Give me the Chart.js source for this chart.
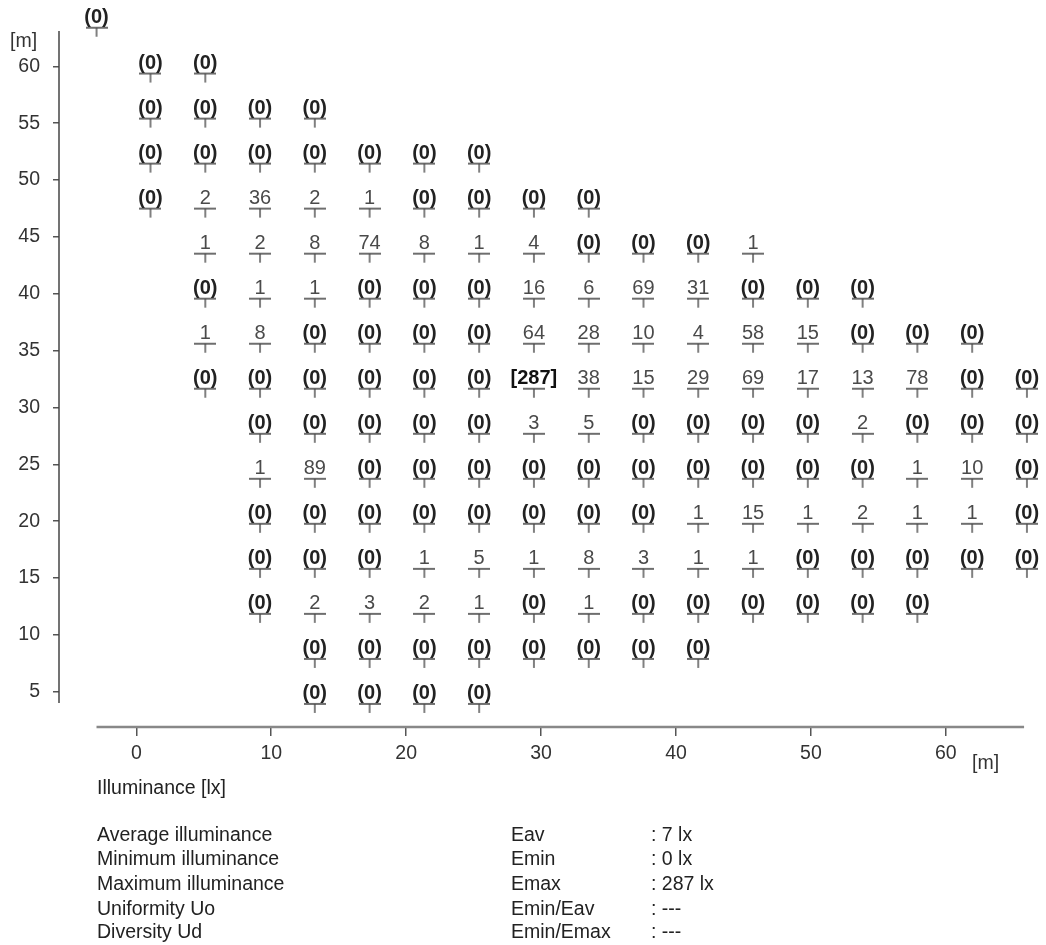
<!DOCTYPE html>
<html><head><meta charset="utf-8">
<script src="https://cdn.jsdelivr.net/npm/chart.js@4.4.1/dist/chart.umd.min.js"></script>
<style>
html,body{margin:0;padding:0;background:#fff;}
#wrap{position:relative;width:1046px;height:945px;overflow:hidden;}
canvas{position:absolute;left:0;top:0;}
.t{position:absolute;font-family:"Liberation Sans",Arial,sans-serif;font-size:19.5px;color:#222;white-space:nowrap;line-height:22px;}
</style></head><body>
<div id="wrap"><canvas id="c" width="1046" height="945"></canvas><div id="stats"></div></div>
<script>
// ---- tick labels ----
const xTicks = [0, 10, 20, 30, 40, 50, 60];
const yTicks = [5, 10, 15, 20, 25, 30, 35, 40, 45, 50, 55, 60];

// ---- calculation grid positions [m] ----
const colX = [1.05, 5.11, 9.17, 13.23, 17.29, 21.35, 25.41, 29.47, 33.53, 37.59, 41.65, 45.71, 49.77, 53.83, 57.89, 61.95, 66.01];
const rowY = [59.37, 55.41, 51.45, 47.49, 43.53, 39.57, 35.61, 31.65, 27.69, 23.73, 19.77, 15.81, 11.85, 7.89, 3.93];

// ---- illuminance values [lx], one array per row (top to bottom), null = no point ----
const N = null;
const row01 = [0, 0, N, N, N, N, N, N, N, N, N, N, N, N, N, N, N];
const row02 = [0, 0, 0, 0, N, N, N, N, N, N, N, N, N, N, N, N, N];
const row03 = [0, 0, 0, 0, 0, 0, 0, N, N, N, N, N, N, N, N, N, N];
const row04 = [0, 2, 36, 2, 1, 0, 0, 0, 0, N, N, N, N, N, N, N, N];
const row05 = [N, 1, 2, 8, 74, 8, 1, 4, 0, 0, 0, 1, N, N, N, N, N];
const row06 = [N, 0, 1, 1, 0, 0, 0, 16, 6, 69, 31, 0, 0, 0, N, N, N];
const row07 = [N, 1, 8, 0, 0, 0, 0, 64, 28, 10, 4, 58, 15, 0, 0, 0, N];
const row08 = [N, 0, 0, 0, 0, 0, 0, 287, 38, 15, 29, 69, 17, 13, 78, 0, 0];
const row09 = [N, N, 0, 0, 0, 0, 0, 3, 5, 0, 0, 0, 0, 2, 0, 0, 0];
const row10 = [N, N, 1, 89, 0, 0, 0, 0, 0, 0, 0, 0, 0, 0, 1, 10, 0];
const row11 = [N, N, 0, 0, 0, 0, 0, 0, 0, 0, 1, 15, 1, 2, 1, 1, 0];
const row12 = [N, N, 0, 0, 0, 1, 5, 1, 8, 3, 1, 1, 0, 0, 0, 0, 0];
const row13 = [N, N, 0, 2, 3, 2, 1, 0, 1, 0, 0, 0, 0, 0, 0, N, N];
const row14 = [N, N, N, 0, 0, 0, 0, 0, 0, 0, 0, N, N, N, N, N, N];
const row15 = [N, N, N, 0, 0, 0, 0, N, N, N, N, N, N, N, N, N, N];
// separate point above the grid
const extraX = [-2.95];
const extraY = [63.4];
const extraV = [0];

// ---- summary ----
const statLabels = ["Average illuminance", "Minimum illuminance", "Maximum illuminance", "Uniformity Uo", "Diversity Ud"];
const statSymbols = ["Eav", "Emin", "Emax", "Emin/Eav", "Emin/Emax"];
const statValues = [": 7 lx", ": 0 lx", ": 287 lx", ": ---", ": ---"];

const rows = [row01, row02, row03, row04, row05, row06, row07, row08, row09, row10, row11, row12, row13, row14, row15];
const points = [];
extraX.forEach((x, i) => points.push({x: x, y: extraY[i], v: extraV[i]}));
rows.forEach((r, ri) => r.forEach((v, ci) => { if (v !== null) points.push({x: colX[ci], y: rowY[ri], v: v}); }));
const maxV = Math.max(...points.map(p => p.v));

// marker: horizontal bar with a short downward stroke (calculation point symbol)
function makeMarker() {
  const c = document.createElement('canvas');
  c.width = 22; c.height = 22;
  const g = c.getContext('2d');
  g.strokeStyle = '#4a4a4a';
  g.lineWidth = 1.6;
  g.beginPath(); g.moveTo(0, 11); g.lineTo(22, 11); g.stroke();
  g.lineWidth = 1.4;
  g.beginPath(); g.moveTo(11, 11); g.lineTo(11, 20); g.stroke();
  return c;
}
const marker = makeMarker();

const FONT = '"Liberation Sans", Arial, sans-serif';

const isoPlugin = {
  id: 'isoPlugin',
  beforeDatasetsDraw(chart) {
    const {ctx, chartArea, scales} = chart;
    ctx.save();
    // y axis line
    ctx.strokeStyle = '#444';
    ctx.lineWidth = 1.5;
    ctx.beginPath();
    ctx.moveTo(chartArea.left, scales.y.getPixelForValue(63.12));
    ctx.lineTo(chartArea.left, scales.y.getPixelForValue(4.0));
    ctx.stroke();
    // x axis line
    ctx.strokeStyle = '#888';
    ctx.lineWidth = 2.5;
    ctx.beginPath();
    ctx.moveTo(scales.x.getPixelForValue(-2.95), chartArea.bottom);
    ctx.lineTo(scales.x.getPixelForValue(65.8), chartArea.bottom);
    ctx.stroke();
    // unit labels
    ctx.fillStyle = '#333';
    ctx.font = '19.5px ' + FONT;
    ctx.textBaseline = 'middle';
    ctx.textAlign = 'left';
    ctx.fillText('[m]', 10, 42);
    ctx.fillText('[m]', 972, 764);
    ctx.restore();
  },
  afterDatasetsDraw(chart) {
    const {ctx} = chart;
    const meta = chart.getDatasetMeta(0);
    ctx.save();
    ctx.textAlign = 'center';
    ctx.textBaseline = 'alphabetic';
    meta.data.forEach((el, i) => {
      const v = points[i].v;
      let txt, font, col;
      if (v === 0) { txt = '(0)'; font = 'bold 20px ' + FONT; col = '#222'; }
      else if (v === maxV) { txt = '[' + v + ']'; font = 'bold 20px ' + FONT; col = '#111'; }
      else { txt = String(v); font = '20px ' + FONT; col = '#4a4a4a'; }
      ctx.font = font;
      ctx.fillStyle = col;
      ctx.fillText(txt, el.x, el.y - 5);
    });
    ctx.restore();
  }
};

new Chart(document.getElementById('c'), {
  type: 'scatter',
  data: {
    datasets: [{
      data: points,
      pointStyle: marker,
      pointRadius: 11,
      borderWidth: 0,
      clip: false
    }]
  },
  options: {
    responsive: false,
    animation: false,
    events: [],
    layout: {padding: {top: 10, right: 6, left: 0, bottom: 0}},
    plugins: {legend: {display: false}, tooltip: {enabled: false}},
    scales: {
      x: {
        type: 'linear',
        min: -5.73, max: 66.61,
        border: {display: false},
        grid: {display: true, drawOnChartArea: false, drawTicks: true, tickLength: 9, color: '#555', lineWidth: 1.5},
        ticks: {color: '#333', font: {family: FONT, size: 19.5}, padding: 6},
        afterBuildTicks: s => { s.ticks = xTicks.map(v => ({value: v})); },
        afterFit: s => { s.height = 218; s.paddingLeft = 0; s.paddingRight = 0; }
      },
      y: {
        type: 'linear',
        min: 1.9, max: 64.87,
        border: {display: false},
        grid: {display: true, drawOnChartArea: false, drawTicks: true, tickLength: 6, color: '#555', lineWidth: 1.5},
        ticks: {color: '#333', font: {family: FONT, size: 19.5}, padding: 13},
        afterBuildTicks: s => { s.ticks = yTicks.map(v => ({value: v})); },
        afterFit: s => { s.width = 59; s.paddingTop = 0; s.paddingBottom = 0; }
      }
    }
  },
  plugins: [isoPlugin]
});

// summary text as real DOM text
const stats = document.getElementById('stats');
function addText(txt, x, yc) {
  const d = document.createElement('div');
  d.className = 't';
  d.textContent = txt;
  d.style.left = x + 'px';
  d.style.top = (yc - 11) + 'px';
  stats.appendChild(d);
}
addText('Illuminance [lx]', 97, 787);
const statRowsY = [834, 858, 883, 908, 931];
statLabels.forEach((s, i) => {
  addText(s, 97, statRowsY[i]);
  addText(statSymbols[i], 511, statRowsY[i]);
  addText(statValues[i], 651, statRowsY[i]);
});
</script>
</body></html>
